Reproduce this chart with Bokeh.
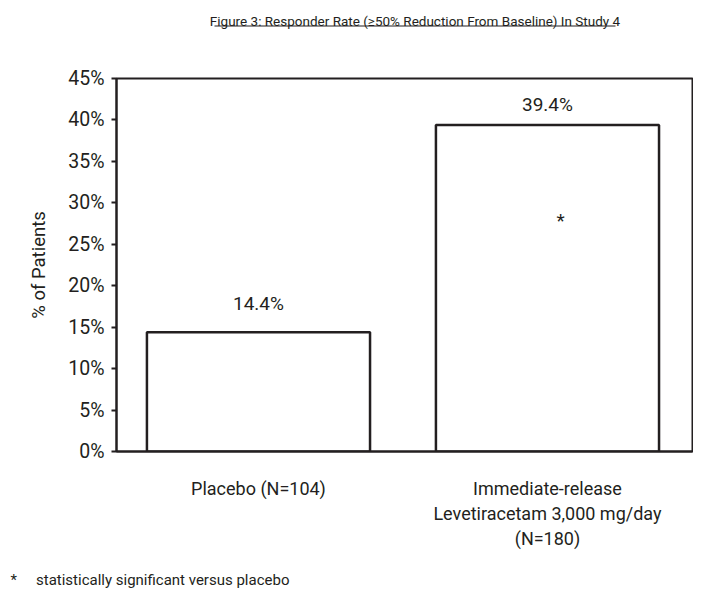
from bokeh.plotting import figure
from bokeh.layouts import column
from bokeh.models import ColumnDataSource, FixedTicker, Range1d, Title
from bokeh.embed import file_html
from bokeh.resources import INLINE
from bokeh.core.properties import value

# ---- data ----
categories = ["Placebo (N=104)", "Immediate-release\nLevetiracetam 3,000 mg/day\n(N=180)"]
responder_rate = [14.4, 39.4]
value_labels = ["14.4%", "39.4%"]
significance = ["", "*"]
y_ticks = [0, 5, 10, 15, 20, 25, 30, 35, 40, 45]
y_tick_labels = ["0%", "5%", "10%", "15%", "20%", "25%", "30%", "35%", "40%", "45%"]
title_text = "Figure 3: Responder Rate (\u226550% Reduction From Baseline) In Study 4"
footnote_mark = "*"
footnote_text = "statistically significant versus placebo"
y_axis_title = "% of Patients"

# ---- style ----
INK = "#231f20"
FONT = "Roboto"
W = 693
HEAD_H, MAIN_H, FOOT_H = 40, 520, 29
FRAME_L, FRAME_R = 116, 692
label_y_offsets = [-29, -20]
star_offsets_y = [0, 96]

# ---- header (title + underline); its frame is aligned with the chart frame ----
head = figure(width=W, height=HEAD_H, x_range=Range1d(FRAME_L, FRAME_R),
              y_range=Range1d(HEAD_H, 0), output_backend="svg",
              toolbar_location=None, x_axis_type=None, y_axis_type=None,
              min_border_left=FRAME_L, min_border_right=W - FRAME_R,
              min_border_top=0, min_border_bottom=0)
head.outline_line_color = None
head.grid.visible = False
head.text(x=[414.5], y=[20], text=[title_text], text_align="center",
          text_baseline="alphabetic", text_font=value(FONT),
          text_font_size="13.5px", text_color=INK)
head.segment(x0=[214], y0=[25.5], x1=[615], y1=[25.5], line_color=INK, line_width=1.2)

# ---- main chart ----
x_idx = list(range(len(categories)))

p = figure(width=W, height=MAIN_H,
           x_range=Range1d(-0.4913, 1.5018), y_range=Range1d(0, 45),
           output_backend="svg", toolbar_location=None,
           min_border_left=FRAME_L, min_border_right=W - FRAME_R,
           min_border_top=38, min_border_bottom=109)
p.background_fill_color = "white"
p.border_fill_color = "white"
p.outline_line_color = INK
p.outline_line_width = 2
p.outline_line_alpha = 1
p.grid.visible = False

src = ColumnDataSource(dict(x=x_idx, top=responder_rate, lab=value_labels,
                            yoff=label_y_offsets, star=significance,
                            soff=star_offsets_y))

p.vbar(x="x", top="top", bottom=0, width=0.772, source=src,
       fill_color="white", line_color=INK, line_width=2.5)

p.text(x="x", y="top", text="lab", y_offset="yoff", source=src,
       text_align="center", text_baseline="middle",
       text_font=value(FONT), text_font_size="19px", text_color=INK)

p.text(x="x", y="top", text="star", y_offset="soff", x_offset=13, source=src,
       text_align="center", text_baseline="middle",
       text_font=value(FONT), text_font_size="19px", text_color=INK)

ya = p.yaxis[0]
ya.ticker = FixedTicker(ticks=y_ticks)
ya.major_label_overrides = {t: l for t, l in zip(y_ticks, y_tick_labels)}
ya.minor_tick_line_color = None
ya.major_tick_in = 0
ya.major_tick_out = 5
ya.major_tick_line_width = 2
ya.major_tick_line_color = INK
ya.axis_line_width = 2
ya.axis_line_color = INK
ya.major_label_standoff = 7
ya.major_label_text_font = FONT
ya.major_label_text_font_size = "19.5px"
ya.major_label_text_color = INK
ya.axis_label = y_axis_title
ya.axis_label_text_font = FONT
ya.axis_label_text_font_size = "18.5px"
ya.axis_label_text_font_style = "normal"
ya.axis_label_text_color = INK
ya.axis_label_standoff = 15

xa = p.xaxis[0]
xa.ticker = FixedTicker(ticks=x_idx)
xa.major_label_overrides = {i: c for i, c in zip(x_idx, categories)}
xa.minor_tick_line_color = None
xa.major_tick_in = 0
xa.major_tick_out = 0
xa.axis_line_width = 2
xa.axis_line_color = INK
xa.major_label_standoff = 26
xa.major_label_text_font = FONT
xa.major_label_text_font_size = "18px"
xa.major_label_text_color = INK
xa.major_label_text_line_height = 1.2

# ---- footer (footnote as a title that sits left of the aligned frame) ----
foot = figure(width=W, height=FOOT_H, x_range=Range1d(0, 1), y_range=Range1d(0, 1),
              output_backend="svg", toolbar_location=None,
              x_axis_type=None, y_axis_type=None,
              min_border_left=FRAME_L, min_border_right=W - FRAME_R,
              min_border_top=0, min_border_bottom=0, title_location="below")
foot.outline_line_color = None
foot.grid.visible = False
foot.title = Title(text=footnote_mark + "\u2003 " + footnote_text, align="left",
                   offset=10 - FRAME_L, standoff=2, vertical_align="bottom",
                   text_font=FONT, text_font_size="15px", text_font_style="normal",
                   text_color=INK)

layout = column(head, p, foot, spacing=0)
open("out.html", "w").write(file_html(layout, INLINE))
